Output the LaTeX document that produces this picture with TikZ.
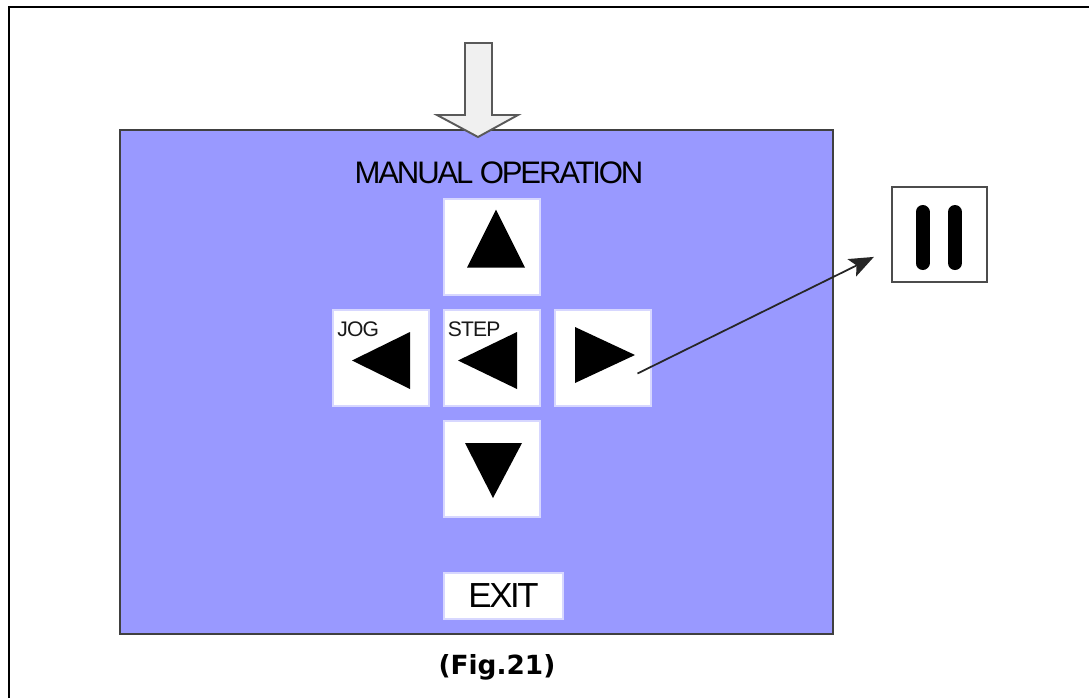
\documentclass[tikz,border=0pt]{standalone}
\usepackage{fontspec}
\usetikzlibrary{positioning, arrows.meta}
\newfontfamily\panelfont[LetterSpace=-7]{Liberation Sans}
\newfontfamily\keyfont[LetterSpace=-4]{Liberation Sans}
\newfontfamily\capfont{DejaVu Sans}
\definecolor{panelblue}{RGB}{153,153,255}
\definecolor{keyedge}{RGB}{215,215,255}

\begin{document}
\begin{tikzpicture}[node distance=2.22cm,on grid]
  \tikzset{panel/.style={draw=black!75, line width=1pt, fill=panelblue,
                         minimum width=14.26cm, minimum height=10.08cm, inner sep=0pt},
           key/.style={draw=keyedge, line width=0.6pt, fill=white,
                       minimum size=1.92cm, inner sep=0pt},
           keylabel/.style={anchor=base west, inner sep=0pt, text=black!90,
                            font=\keyfont\fontsize{12}{12}\selectfont},
           bar/.style={line width=0.28cm, line cap=round}}
  \useasboundingbox (0,0) rectangle (21.78,-13.96);
  \draw[line width=1.2pt] (0.18,-13.96) |- (21.78,-0.14);

  \node[panel]  (panel)                    at (9.53,-7.64) {};
  \node         (title)                    at (9.98,-3.46)
        [font=\panelfont\fontsize{17.7}{18}\selectfont] {MANUAL OPERATION};

  \node[key]    (b_step)                   at (9.84,-7.16) {};
  \node[key]    (b_up)   [above = of b_step] {};
  \node[key]    (b_down) [below = of b_step] {};
  \node[key]    (b_jog)  [left  = of b_step] {};
  \node[key]    (b_right)[right = of b_step] {};
  \node[key, minimum width=2.38cm, minimum height=0.92cm]
                (b_exit) [below = 2.54cm of b_down, xshift=0.23cm]
        {\panelfont\fontsize{19.8}{20}\selectfont EXIT};

  \node[keylabel] (l_jog)  at ([shift={(-0.88,0.44)}]b_jog.center)  {JOG};
  \node[keylabel] (l_step) at ([shift={(-0.89,0.44)}]b_step.center) {STEP};

  % key triangles
  \fill (b_up.center)    ++(0.08,0.75)  -- ++(0.58,-1.16) -- ++(-1.16,0) -- cycle;
  \fill (b_down.center)  ++(0.02,-0.58) -- ++(0.58,1.1)   -- ++(-1.14,0) -- cycle;
  \fill (b_jog.center)   ++(-0.58,-0.05) -- ++(1.16,0.57) -- ++(0,-1.14) -- cycle;
  \fill (b_step.center)  ++(-0.68,-0.05) -- ++(1.18,0.57) -- ++(0,-1.14) -- cycle;
  \fill (b_right.center) ++(0.64,0.06)  -- ++(-1.2,0.56)  -- ++(0,-1.12) -- cycle;

  % entry arrow
  \draw[draw=black!65, line width=1.1pt, fill=black!6, line join=miter]
    (9.30,-0.86) -- (9.84,-0.86) -- (9.84,-2.30) -- (10.36,-2.30)
    -- (9.56,-2.74) -- (8.74,-2.30) -- (9.30,-2.30) -- cycle;

  \node[draw=black!70, line width=1.2pt, minimum size=1.9cm, inner sep=0pt]
                (pause)                    at (18.79,-4.69) {};
  \draw[bar] ([shift={(-0.34,0.45)}]pause.center) -- ([shift={(-0.34,-0.57)}]pause.center);
  \draw[bar] ([shift={(0.31,0.45)}]pause.center)  -- ([shift={(0.31,-0.57)}]pause.center);

  \coordinate (tail) at ([shift={(0.69,-0.31)}]b_right.center);
  \draw[-{Stealth[length=14pt,width=11pt,inset=3pt]}, line width=1pt, black!85, shorten >=0.38cm]
    (tail) -- ([yshift=-0.28cm]pause.west);

  \node (caption) at (9.94,-13.34)
        [font=\capfont\bfseries\fontsize{15}{15}\selectfont] {(Fig.21)};
\end{tikzpicture}
\end{document}
